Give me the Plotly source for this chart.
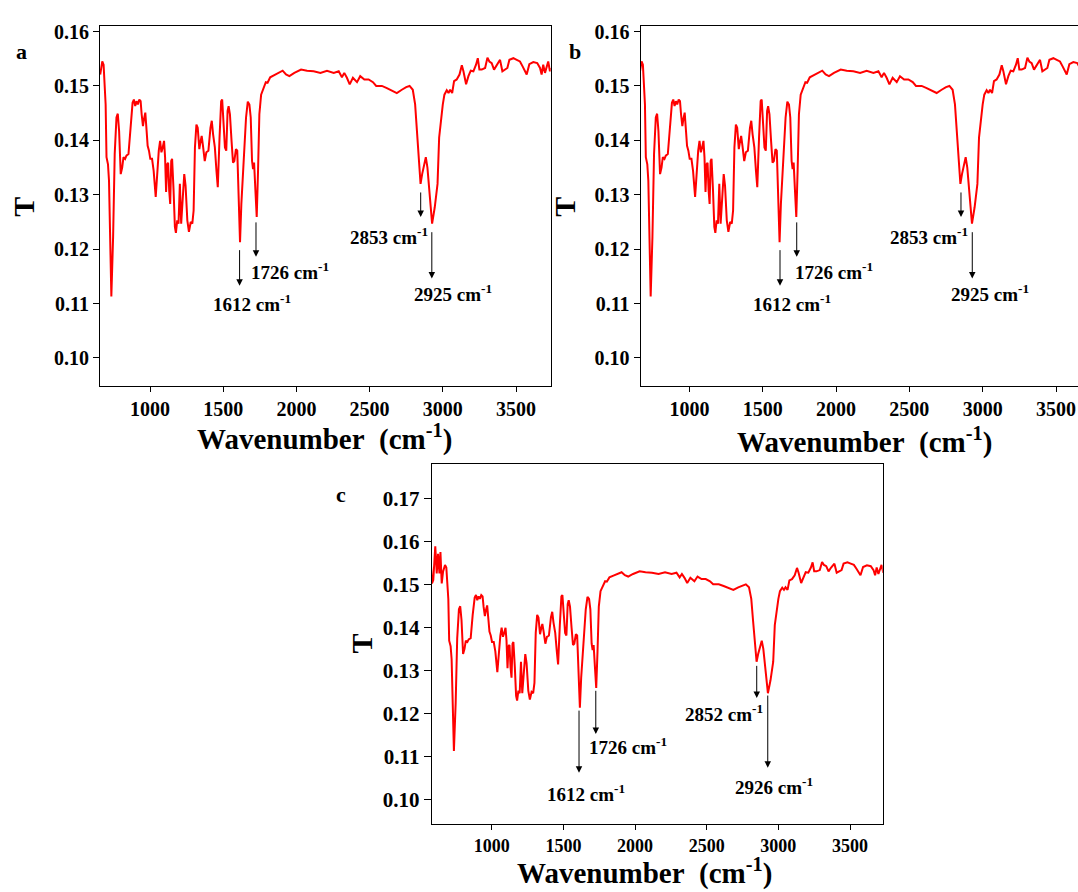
import plotly.graph_objects as go

# ---------------- data ----------------
wavenumber_a = [660, 674, 683, 697, 703, 713, 720, 736, 748, 759, 771, 780, 789, 800, 810, 819, 830, 839, 853,
                867, 881, 890, 899, 908, 917, 927, 936, 943, 952, 959, 968, 977, 984, 993, 1002, 1014, 1025,
                1039, 1050, 1060, 1069, 1078, 1087, 1096, 1103, 1110, 1117, 1124, 1131, 1138, 1145, 1151, 1161,
                1170, 1177, 1186, 1195, 1204, 1213, 1222, 1234, 1243, 1255, 1266, 1278, 1289, 1298, 1307, 1317,
                1326, 1337, 1346, 1353, 1362, 1374, 1385, 1399, 1413, 1422, 1431, 1443, 1454, 1463, 1475, 1486,
                1493, 1500, 1512, 1521, 1530, 1537, 1546, 1557, 1567, 1576, 1587, 1596, 1605, 1615, 1624, 1635,
                1645, 1656, 1668, 1679, 1688, 1697, 1704, 1711, 1720, 1729, 1738, 1747, 1759, 1775, 1791, 1803,
                1821, 1849, 1883, 1906, 1929, 1952, 1986, 2032, 2073, 2118, 2164, 2209, 2255, 2289, 2311, 2327,
                2345, 2364, 2386, 2414, 2436, 2464, 2493, 2523, 2545, 2584, 2618, 2652, 2686, 2720, 2750, 2773,
                2795, 2811, 2823, 2834, 2848, 2859, 2873, 2884, 2895, 2909, 2927, 2945, 2964, 2975, 2986, 3000,
                3011, 3027, 3039, 3050, 3064, 3077, 3095, 3114, 3130, 3141, 3159, 3175, 3191, 3209, 3227, 3239,
                3250, 3266, 3289, 3305, 3318, 3334, 3350, 3368, 3391, 3407, 3425, 3441, 3455, 3482, 3505, 3527,
                3545, 3573, 3591, 3618, 3645, 3664, 3675, 3686, 3698, 3709, 3720, 3732, 3740]
transmittance_a = [0.1521, 0.1545, 0.1539, 0.1466, 0.1369, 0.1356, 0.1326, 0.1113, 0.1222, 0.1375, 0.1442,
                   0.1449, 0.1417, 0.1338, 0.1350, 0.1369, 0.1366, 0.1372, 0.1375, 0.1429, 0.1469, 0.1475,
                   0.1463, 0.1472, 0.1466, 0.1475, 0.1472, 0.1448, 0.1426, 0.1439, 0.1451, 0.1417, 0.1390,
                   0.1381, 0.1366, 0.1366, 0.1344, 0.1296, 0.1344, 0.1381, 0.1399, 0.1378, 0.1387, 0.1399,
                   0.1369, 0.1305, 0.1356, 0.1359, 0.1308, 0.1283, 0.1362, 0.1366, 0.1308, 0.1241, 0.1230,
                   0.1253, 0.1247, 0.1320, 0.1247, 0.1283, 0.1338, 0.1317, 0.1253, 0.1232, 0.1250, 0.1247,
                   0.1271, 0.1387, 0.1429, 0.1423, 0.1384, 0.1399, 0.1408, 0.1390, 0.1362, 0.1378, 0.1381,
                   0.1423, 0.1436, 0.1411, 0.1387, 0.1344, 0.1314, 0.1405, 0.1472, 0.1475, 0.1448, 0.1387,
                   0.1381, 0.1454, 0.1463, 0.1448, 0.1399, 0.1359, 0.1362, 0.1384, 0.1381, 0.1296, 0.1213,
                   0.1283, 0.1344, 0.1393, 0.1442, 0.1471, 0.1466, 0.1442, 0.1362, 0.1347, 0.1359, 0.1308,
                   0.1259, 0.1344, 0.1448, 0.1484, 0.1496, 0.1507, 0.1506, 0.1516, 0.1520, 0.1524, 0.1528,
                   0.1521, 0.1518, 0.1524, 0.1530, 0.1528, 0.1527, 0.1524, 0.1528, 0.1524, 0.1527, 0.1516,
                   0.1524, 0.1515, 0.1503, 0.1515, 0.1507, 0.1518, 0.1512, 0.1512, 0.1507, 0.1500, 0.1500,
                   0.1496, 0.1492, 0.1487, 0.1493, 0.1498, 0.1500, 0.1493, 0.1466, 0.1417, 0.1381, 0.1320,
                   0.1338, 0.1359, 0.1369, 0.1350, 0.1302, 0.1247, 0.1277, 0.1320, 0.1405, 0.1436, 0.1466,
                   0.1484, 0.1492, 0.1487, 0.1493, 0.1487, 0.1509, 0.1512, 0.1521, 0.1538, 0.1527, 0.1503,
                   0.1518, 0.1528, 0.1527, 0.1539, 0.1551, 0.1530, 0.1530, 0.1533, 0.1552, 0.1545, 0.1542,
                   0.1530, 0.1539, 0.1548, 0.1527, 0.1530, 0.1533, 0.1548, 0.1551, 0.1548, 0.1545, 0.1536,
                   0.1521, 0.1540, 0.1544, 0.1542, 0.1533, 0.1521, 0.1539, 0.1524, 0.1536, 0.1545, 0.1527,
                   0.1533]

# panel b shows the same spectrum
wavenumber_b = list(wavenumber_a)
transmittance_b = list(transmittance_a)

# panel c: noisy start below 660 cm-1, then the same spectrum
wavenumber_c_start = [576, 583, 592, 606, 616, 625, 635, 642, 651]
transmittance_c_start = [0.1544, 0.1502, 0.1510, 0.1588, 0.1525, 0.1571, 0.1525, 0.1575, 0.1502]
wavenumber_c = wavenumber_c_start + wavenumber_a
transmittance_c = transmittance_c_start + [0.1529] + transmittance_a[1:]

# peak labels: (label, peak x, arrow tail y, arrow head y, text x, text y, text anchor)
peaks_a = [("1612", 1612, 0.1201, 0.1133, 1697, 0.1102, "center"),
           ("1726", 1724, 0.1252, 0.1186, 1676, 0.1159, "left"),
           ("2853", 2849, 0.1307, 0.1259, 2912, 0.1225, "right"),
           ("2925", 2925, 0.1234, 0.1146, 2789, 0.1119, "left")]
peaks_b = [("1612", 1618, 0.1201, 0.1133, 1703, 0.1102, "center"),
           ("1726", 1732, 0.1252, 0.1186, 1705, 0.1159, "left"),
           ("2853", 2852, 0.1307, 0.1259, 2913, 0.1225, "right"),
           ("2925", 2929, 0.1234, 0.1146, 2772, 0.1119, "left")]
peaks_c = [("1612", 1609, 0.1210, 0.1062, 1658, 0.1016, "center"),
           ("1726", 1726, 0.1256, 0.1152, 1665, 0.1125, "left"),
           ("2852", 2849, 0.1314, 0.1236, 2907, 0.1201, "right"),
           ("2926", 2926, 0.1245, 0.1074, 2684, 0.1032, "left")]

# ---------------- figure ----------------
W, H = 1078, 892
FONT = "Liberation Serif"
RED = "#ff0000"

def px_x(p):
    return p / W

def px_y(p):
    return 1 - p / H

fig = go.Figure()
fig.add_trace(go.Scatter(x=wavenumber_a, y=transmittance_a, mode="lines",
                         line=dict(color=RED, width=2), xaxis="x", yaxis="y", showlegend=False))
fig.add_trace(go.Scatter(x=wavenumber_b, y=transmittance_b, mode="lines",
                         line=dict(color=RED, width=2), xaxis="x2", yaxis="y2", showlegend=False))
fig.add_trace(go.Scatter(x=wavenumber_c, y=transmittance_c, mode="lines",
                         line=dict(color=RED, width=2), xaxis="x3", yaxis="y3", showlegend=False))

def xax(domain, rng, anchor, mirror, size):
    return dict(domain=domain, range=rng, anchor=anchor, showline=True, linecolor="black", linewidth=1.2,
                mirror=mirror, ticks="outside", ticklen=5, tickwidth=1.2, tickcolor="black",
                tickvals=[1000, 1500, 2000, 2500, 3000, 3500], showgrid=False, zeroline=False,
                tickfont=dict(family=FONT, size=size, color="black", weight="bold"))

def yax(domain, rng, anchor, mirror, tickvals, size, ticklen):
    return dict(domain=domain, range=rng, anchor=anchor, showline=True, linecolor="black", linewidth=1.2,
                mirror=mirror, ticks="outside", ticklen=ticklen, tickwidth=1.2, tickcolor="black",
                tickvals=tickvals, tickformat=".2f", showgrid=False, zeroline=False,
                tickfont=dict(family=FONT, size=size, color="black", weight="bold"))

ticks_ab = [0.10, 0.11, 0.12, 0.13, 0.14, 0.15, 0.16]
ticks_c = [0.10, 0.11, 0.12, 0.13, 0.14, 0.15, 0.16, 0.17]

dom_ab_y = [px_y(383), px_y(21)]
fig.update_layout(
    xaxis=xax([px_x(100), px_x(550.7)], [658.5, 3737], "y", True, 20),
    yaxis=yax(dom_ab_y, [0.09488, 0.16104], "x", True, ticks_ab, 20, 6),
    xaxis2=xax([px_x(640.7), 1.0], [668, 3650], "y2", True, 20),
    yaxis2=yax(dom_ab_y, [0.09488, 0.16104], "x2", False, ticks_ab, 20, 6),
    xaxis3=xax([px_x(431.7), px_x(882.7)], [581, 3728], "y3", True, 18),
    yaxis3=yax([px_y(824), px_y(461.7)], [0.09422, 0.17792], "x3", True, ticks_c, 21, 7),
)

ann = []
for peaks, xr, yr in [(peaks_a, "x", "y"), (peaks_b, "x2", "y2"), (peaks_c, "x3", "y3")]:
    for label, xp, ytail, yhead, tx, ty, anchor in peaks:
        ann.append(dict(x=xp, y=yhead, ax=xp, ay=ytail, xref=xr, yref=yr, axref=xr, ayref=yr,
                        text="", showarrow=True, arrowhead=2, arrowsize=1.3, arrowwidth=1,
                        arrowcolor="black", standoff=0, startstandoff=0))
        ann.append(dict(x=tx, y=ty, xref=xr, yref=yr, text=f"{label} cm<sup>-1</sup>", showarrow=False,
                        xanchor=anchor, yanchor="middle",
                        font=dict(family=FONT, size=19, color="black", weight="bold")))

title_txt = "Wavenumber\u00a0\u00a0(cm<sup>-1</sup>)"
title_font = dict(family=FONT, size=29, color="black", weight="bold")
for cx, cy in [(324, 435), (864, 438)]:
    ann.append(dict(x=px_x(cx), y=px_y(cy), xref="paper", yref="paper", text=title_txt, showarrow=False,
                    xanchor="center", yanchor="middle", font=title_font))
# bottom title of panel c sits on the lower edge of the picture
ann.append(dict(x=px_x(644), y=0, xref="paper", yref="paper", text=title_txt, showarrow=False,
                xanchor="center", yanchor="bottom", font=title_font))
for cx, cy in [(24, 203), (565, 203), (361, 642)]:
    ann.append(dict(x=px_x(cx), y=px_y(cy), xref="paper", yref="paper", text="T", showarrow=False,
                    textangle=-90, xanchor="center", yanchor="middle",
                    font=dict(family=FONT, size=30, color="black", weight="bold")))
for lab, cx, cy in [("a", 21, 47), ("b", 575, 47), ("c", 341, 492)]:
    ann.append(dict(x=px_x(cx), y=px_y(cy), xref="paper", yref="paper", text=lab, showarrow=False,
                    xanchor="center", yanchor="middle",
                    font=dict(family=FONT, size=22, color="black", weight="bold")))

fig.update_layout(annotations=ann, width=W, height=H, margin=dict(l=0, r=0, t=0, b=0),
                  plot_bgcolor="white", paper_bgcolor="white")

# remove the default page margin so the figure fills the window exactly
fig.write_html("out.html", config={"displayModeBar": False},
               post_script="document.body.style.margin='0';document.body.style.overflow='hidden';")
